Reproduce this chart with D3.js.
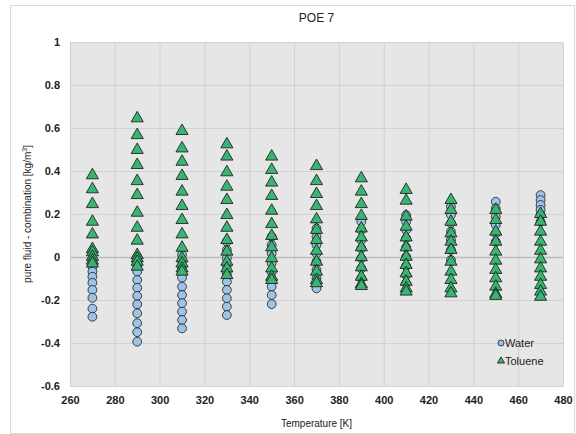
<!DOCTYPE html>
<html>
<head>
<meta charset="utf-8">
<script src="https://cdn.jsdelivr.net/npm/d3@7"></script>
<style>
  body { margin: 0; background: #fff; }
  text { font-family: "Liberation Sans", Arial, sans-serif; fill: #222; }
  .tick text { font-weight: bold; font-size: 11px; }
</style>
</head>
<body>
<div id="chart"></div>
<script>
// temperatures of each column [K]
const temperatures = [270, 290, 310, 330, 350, 370, 390, 410, 430, 450, 470];

// pure fluid - combination [kg/m3], one list per temperature
const waterValues = [
  [-0.02, -0.045, -0.068, -0.092, -0.12, -0.153, -0.19, -0.24, -0.278],
  [0.0, -0.02, -0.04, -0.068, -0.107, -0.143, -0.181, -0.22, -0.262, -0.308, -0.35, -0.394],
  [0.01, -0.015, -0.04, -0.06, -0.096, -0.138, -0.177, -0.215, -0.254, -0.293, -0.332],
  [0.071, 0.033, -0.006, -0.04, -0.08, -0.115, -0.153, -0.192, -0.231, -0.27],
  [0.094, 0.056, 0.017, -0.03, -0.07, -0.105, -0.138, -0.177, -0.219],
  [0.133, 0.094, 0.056, 0.017, -0.022, -0.06, -0.099, -0.146],
  [0.164, 0.126, 0.079, 0.04, -0.006, -0.053, -0.099],
  [0.195, 0.164, 0.126, 0.087, 0.045, 0.001, -0.042, -0.084, -0.122],
  [0.234, 0.195, 0.157, 0.118, 0.079, 0.033, -0.014],
  [0.257, 0.226, 0.188, 0.149, 0.11, 0.071],
  [0.288, 0.265, 0.242, 0.219, 0.195, 0.164]
];

const tolueneValues = [
  [0.38, 0.315, 0.246, 0.164, 0.105, 0.037, 0.022, 0.001, -0.017, -0.03],
  [0.645, 0.567, 0.498, 0.428, 0.353, 0.288, 0.206, 0.136, 0.076, 0.009, -0.006, -0.022, -0.045],
  [0.586, 0.505, 0.443, 0.377, 0.304, 0.237, 0.172, 0.105, 0.043, -0.006, -0.03, -0.053, -0.068],
  [0.524, 0.467, 0.394, 0.327, 0.265, 0.195, 0.136, 0.079, 0.025, -0.022, -0.053, -0.084],
  [0.467, 0.405, 0.346, 0.284, 0.215, 0.153, 0.098, 0.045, -0.006, -0.053, -0.092, -0.107],
  [0.423, 0.353, 0.293, 0.237, 0.175, 0.126, 0.079, 0.029, -0.022, -0.068, -0.107, -0.122],
  [0.366, 0.304, 0.246, 0.191, 0.133, 0.091, 0.045, -0.001, -0.048, -0.092, -0.126, -0.135],
  [0.312, 0.262, 0.188, 0.141, 0.091, 0.045, 0.001, -0.037, -0.076, -0.115, -0.146, -0.161],
  [0.265, 0.219, 0.164, 0.11, 0.071, 0.033, -0.022, -0.068, -0.107, -0.146, -0.169],
  [0.219, 0.172, 0.118, 0.071, 0.025, -0.017, -0.06, -0.099, -0.138, -0.172, -0.181],
  [0.2, 0.164, 0.118, 0.071, 0.029, -0.011, -0.053, -0.092, -0.13, -0.161, -0.185]
];

const xTicks = [260, 280, 300, 320, 340, 360, 380, 400, 420, 440, 460, 480];
const yTicks = [-0.6, -0.4, -0.2, 0, 0.2, 0.4, 0.6, 0.8, 1];

const W = 576, H = 434;
const margin = { top: 42, right: 13, bottom: 48, left: 70 };
const width = W - margin.left - margin.right,
  height = H - margin.top - margin.bottom;

const svg = d3.select("#chart").append("svg")
  .attr("width", W)
  .attr("height", H);

// outer chart border
svg.append("rect")
  .attr("x", 10.5).attr("y", 5.5)
  .attr("width", 564).attr("height", 428)
  .attr("fill", "#fff")
  .attr("stroke", "#d9d9d9");

const g = svg.append("g")
  .attr("transform", "translate(" + margin.left + "," + margin.top + ")");

const x = d3.scaleLinear().domain([260, 480]).range([0, width]);
const y = d3.scaleLinear().domain([-0.6, 1]).range([height, 0]);

g.append("rect")
  .attr("width", width).attr("height", height)
  .attr("fill", "#e6e6e6");

// grid
g.append("g").selectAll("line").data(xTicks).enter().append("line")
  .attr("x1", d => x(d) + 0.5).attr("x2", d => x(d) + 0.5)
  .attr("y1", 0).attr("y2", height)
  .attr("stroke", "#d2d2d2");
g.append("g").selectAll("line").data(yTicks).enter().append("line")
  .attr("x1", 0).attr("x2", width)
  .attr("y1", d => Math.round(y(d)) + 0.5).attr("y2", d => Math.round(y(d)) + 0.5)
  .attr("stroke", d => d === 0 ? "#bdbdbd" : "#d2d2d2")
  .attr("stroke-width", d => d === 0 ? 1.5 : 1);

// axes
const xAxis = g.append("g")
  .attr("transform", "translate(0," + height + ")")
  .call(d3.axisBottom(x).tickValues(xTicks).tickSize(0).tickPadding(10));
xAxis.select(".domain").attr("stroke", "#d2d2d2");

// plain hyphen for negatives, like the original
const yAxis = g.append("g")
  .call(d3.axisLeft(y).tickValues(yTicks).tickSize(0).tickPadding(10)
    .tickFormat(d => String(+d.toFixed(1))));
yAxis.select(".domain").attr("stroke", "#cfcfcf");

g.selectAll(".tick text").attr("fill", "#222");

// points
const waterPts = [], toluenePts = [];
temperatures.forEach((t, i) => {
  waterValues[i].forEach(v => waterPts.push([t, v]));
  tolueneValues[i].forEach(v => toluenePts.push([t, v]));
});

g.append("g").selectAll("circle").data(waterPts).enter().append("circle")
  .attr("cx", d => x(d[0]))
  .attr("cy", d => y(d[1]))
  .attr("r", 4.4)
  .attr("fill", "#9dc3e6")
  .attr("stroke", "#1a1a1a")
  .attr("stroke-width", 0.8);

const tri = d3.symbol().type(d3.symbolTriangle).size(64);
g.append("g").selectAll("path").data(toluenePts).enter().append("path")
  .attr("d", tri)
  .attr("transform", d => "translate(" + x(d[0]) + "," + y(d[1]) + ")")
  .attr("fill", "#3bb373")
  .attr("stroke", "#111")
  .attr("stroke-width", 0.8);

// legend
const lg = svg.append("g").attr("transform", "translate(501,343)");
lg.append("circle").attr("r", 3).attr("fill", "#9dc3e6")
  .attr("stroke", "#1a1a1a").attr("stroke-width", 0.8);
lg.append("text").attr("x", 4).attr("y", 4).attr("font-size", 11).text("Water");
lg.append("path").attr("d", d3.symbol().type(d3.symbolTriangle).size(22))
  .attr("transform", "translate(0,18)")
  .attr("fill", "#3bb373").attr("stroke", "#111").attr("stroke-width", 0.8);
lg.append("text").attr("x", 4).attr("y", 22).attr("font-size", 11).text("Toluene");

// titles
svg.append("text")
  .attr("x", margin.left + width / 2).attr("y", 22)
  .attr("text-anchor", "middle").attr("font-size", 12)
  .text("POE 7");

svg.append("text")
  .attr("x", margin.left + width / 2).attr("y", 427)
  .attr("text-anchor", "middle").attr("font-size", 10)
  .text("Temperature [K]");

const yt = svg.append("text")
  .attr("text-anchor", "middle").attr("font-size", 10)
  .attr("transform", "translate(31," + (margin.top + height / 2) + ")rotate(-90)");
yt.append("tspan").text("pure fluid - combination [kg/m");
yt.append("tspan").attr("font-size", 7).attr("dy", -4).text("3");
yt.append("tspan").attr("dy", 4).text("]");
</script>
</body>
</html>
